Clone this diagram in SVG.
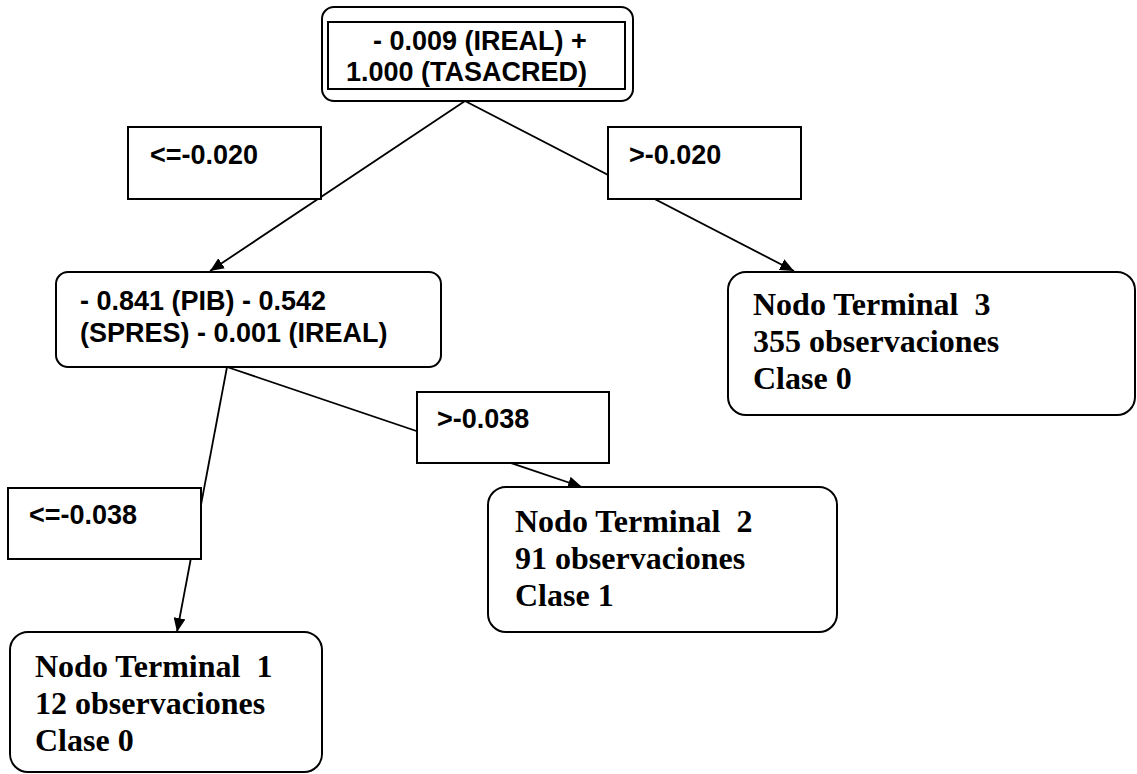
<svg xmlns="http://www.w3.org/2000/svg" width="1137" height="774" viewBox="0 0 1137 774">
<style>
.box{fill:#fff;stroke:#000;stroke-width:2}
.lbl{fill:#fff;stroke:#000;stroke-width:2}
.edge{stroke:#000;stroke-width:1.8;fill:none}
.sans{font-family:"Liberation Sans",Arial,sans-serif;font-weight:bold;font-size:27px;fill:#000}
.serif{font-family:"Liberation Serif","Times New Roman",serif;font-weight:bold;font-size:32px;fill:#000;white-space:pre}
</style>
<defs>
<marker id="arr" viewBox="0 0 14 12" refX="14" refY="6" markerWidth="14" markerHeight="12" markerUnits="userSpaceOnUse" orient="auto">
<path d="M0,0 L14,6 L0,12 z" fill="#000"/>
</marker>
</defs>
<rect width="1137" height="774" fill="#fff"/>
<g id="connectors">
<line class="edge" x1="465" y1="101" x2="210" y2="271" marker-end="url(#arr)"/>
<line class="edge" x1="465" y1="101" x2="794" y2="271" marker-end="url(#arr)"/>
<line class="edge" x1="227" y1="367" x2="582" y2="487" marker-end="url(#arr)"/>
<line class="edge" x1="227" y1="367" x2="177" y2="632" marker-end="url(#arr)"/>
</g>
<g id="root">
<rect class="box" x="322" y="7" width="311" height="94" rx="12"/>
<rect class="box" x="328" y="22" width="297" height="67"/>
<text class="sans" x="373" y="50">- 0.009 (IREAL) +</text>
<text class="sans" x="346" y="81">1.000 (TASACRED)</text>
</g>
<g id="label-le-0020">
<rect class="lbl" x="128" y="127" width="193" height="72"/>
<text class="sans" x="150" y="164">&lt;=-0.020</text>
</g>
<g id="label-gt-0020">
<rect class="lbl" x="608" y="127" width="193" height="72"/>
<text class="sans" x="629" y="164">&gt;-0.020</text>
</g>
<g id="node-split2">
<rect class="box" x="56" y="272" width="385" height="95" rx="12"/>
<text class="sans" x="80" y="310">- 0.841 (PIB) - 0.542</text>
<text class="sans" x="80" y="342">(SPRES) - 0.001 (IREAL)</text>
</g>
<g id="label-gt-0038">
<rect class="lbl" x="417" y="392" width="192" height="71"/>
<text class="sans" x="437" y="428">&gt;-0.038</text>
</g>
<g id="label-le-0038">
<rect class="lbl" x="8" y="488" width="193" height="71"/>
<text class="sans" x="29" y="524">&lt;=-0.038</text>
</g>
<g id="terminal3">
<rect class="box" x="728" y="272" width="407" height="143" rx="18"/>
<text class="serif" x="753" y="315" xml:space="preserve">Nodo Terminal  3</text>
<text class="serif" x="753" y="352">355 observaciones</text>
<text class="serif" x="753" y="389">Clase 0</text>
</g>
<g id="terminal2">
<rect class="box" x="488" y="487" width="349" height="145" rx="18"/>
<text class="serif" x="515" y="532" xml:space="preserve">Nodo Terminal  2</text>
<text class="serif" x="515" y="569">91 observaciones</text>
<text class="serif" x="515" y="606">Clase 1</text>
</g>
<g id="terminal1">
<rect class="box" x="10" y="632" width="312" height="140" rx="18"/>
<text class="serif" x="35" y="677" xml:space="preserve">Nodo Terminal  1</text>
<text class="serif" x="35" y="714">12 observaciones</text>
<text class="serif" x="35" y="751">Clase 0</text>
</g>
</svg>
